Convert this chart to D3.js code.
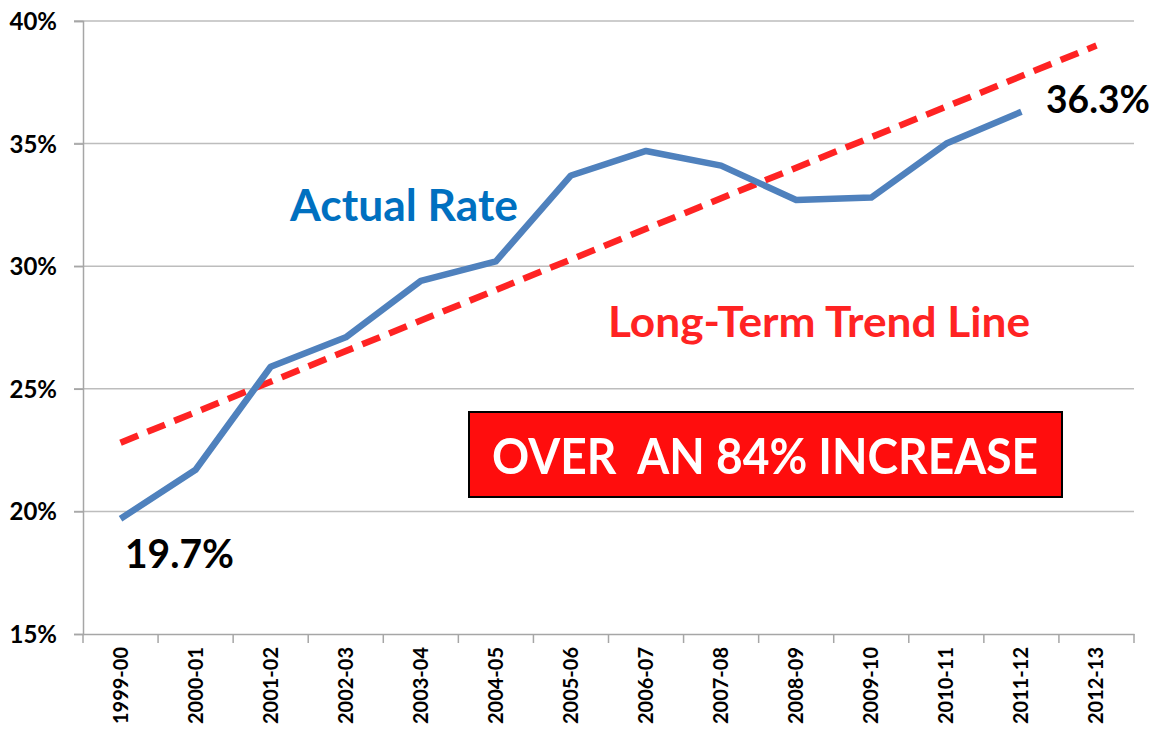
<!DOCTYPE html>
<html>
<head>
<meta charset="utf-8">
<script src="https://cdn.jsdelivr.net/npm/d3@7.9.0/dist/d3.min.js"></script>
<style>
  html, body { margin: 0; padding: 0; background: #fff; }
  svg text { font-family: Lato, "Open Sans", sans-serif; font-weight: bold; }
</style>
</head>
<body>
<svg id="chart" width="1157" height="735"></svg>
<script>
const years = [
  "1999-00", "2000-01", "2001-02", "2002-03", "2003-04", "2004-05", "2005-06",
  "2006-07", "2007-08", "2008-09", "2009-10", "2010-11", "2011-12", "2012-13",
];
const actualRate = [19.7, 21.7, 25.9, 27.1, 29.4, 30.2, 33.7, 34.7, 34.1, 32.7, 32.8, 35.0, 36.3];
const trendYears = ["1999-00", "2012-13"];
const trendRate = [22.8, 39.0];
const yTicks = [15, 20, 25, 30, 35, 40];

const margin = { top: 21, right: 23, bottom: 101, left: 83 };
const width = 1157;
const height = 735;

const svg = d3.select("#chart");

const x = d3.scaleBand()
  .domain(years)
  .range([margin.left, width - margin.right]);

const y = d3.scaleLinear()
  .domain([15, 40])
  .range([height - margin.bottom, margin.top]);

const cx = (yr) => x(yr) + x.bandwidth() / 2;

// gridlines
svg.append("g")
  .selectAll("line")
  .data(yTicks.slice(1))
  .join("line")
  .attr("x1", margin.left - 9)
  .attr("x2", width - margin.right)
  .attr("y1", (d) => y(d))
  .attr("y2", (d) => y(d))
  .attr("stroke", "#bdbdbd")
  .attr("stroke-width", 1.5);

// y axis
const yAxis = svg.append("g")
  .attr("transform", `translate(${margin.left},0)`)
  .call(d3.axisLeft(y).tickValues(yTicks).tickFormat((d) => d + "%").tickSize(9).tickPadding(17));
yAxis.select(".domain").attr("stroke", "#a6a6a6").attr("stroke-width", 1.5);
yAxis.selectAll(".tick line").attr("stroke", "#a6a6a6").attr("stroke-width", 1.5);
yAxis.selectAll("text")
  .attr("fill", "#000")
  .style("font-size", "24px")
  .attr("dy", "0.35em");

// x axis
const xAxis = svg.append("g")
  .attr("transform", `translate(0,${height - margin.bottom})`)
  .call(d3.axisBottom(x).tickSize(0).tickPadding(0));
xAxis.select(".domain").attr("stroke", "#a6a6a6").attr("stroke-width", 1.5);
xAxis.selectAll(".tick line").remove();
xAxis.selectAll(".tick text")
  .attr("fill", "#000")
  .style("font-size", "20px")
  .attr("text-anchor", "end")
  .attr("transform", "rotate(-90)")
  .attr("x", -13)
  .attr("y", 0)
  .attr("dy", "0.35em");

// category boundary ticks
svg.append("g")
  .selectAll("line")
  .data(years.concat(["end"]))
  .join("line")
  .attr("x1", (d, i) => i < years.length ? x(d) : x(years[years.length - 1]) + x.bandwidth())
  .attr("x2", (d, i) => i < years.length ? x(d) : x(years[years.length - 1]) + x.bandwidth())
  .attr("y1", height - margin.bottom)
  .attr("y2", height - margin.bottom + 9)
  .attr("stroke", "#a6a6a6")
  .attr("stroke-width", 1.5);

// trend line
const trendData = trendYears.map((yr, i) => ({ yr, v: trendRate[i] }));
svg.append("path")
  .datum(trendData)
  .attr("fill", "none")
  .attr("stroke", "#ff2323")
  .attr("stroke-width", 6.5)
  .attr("stroke-dasharray", "19,10")
  .attr("d", d3.line().x((d) => cx(d.yr)).y((d) => y(d.v)));

// actual rate line
const actualData = actualRate.map((v, i) => ({ yr: years[i], v }));
svg.append("path")
  .datum(actualData)
  .attr("fill", "none")
  .attr("stroke", "#4f81bd")
  .attr("stroke-width", 6.5)
  .attr("stroke-linejoin", "round")
  .attr("d", d3.line().x((d) => cx(d.yr)).y((d) => y(d.v)));

// annotations
svg.append("text")
  .attr("x", 290)
  .attr("y", 221)
  .attr("fill", "#0070c0")
  .style("font-size", "43px")
  .attr("textLength", 228)
  .attr("lengthAdjust", "spacingAndGlyphs")
  .text("Actual Rate");

svg.append("text")
  .attr("x", 608)
  .attr("y", 337)
  .attr("fill", "#ff2323")
  .style("font-size", "42px")
  .attr("textLength", 422)
  .attr("lengthAdjust", "spacingAndGlyphs")
  .text("Long-Term Trend Line");

svg.append("text")
  .attr("x", 125)
  .attr("y", 568)
  .attr("fill", "#000")
  .style("font-size", "40px")
  .attr("textLength", 109)
  .attr("lengthAdjust", "spacingAndGlyphs")
  .text(actualRate[0].toFixed(1) + "%");

svg.append("text")
  .attr("x", 1046)
  .attr("y", 113)
  .attr("fill", "#000")
  .style("font-size", "39px")
  .attr("textLength", 104)
  .attr("lengthAdjust", "spacingAndGlyphs")
  .text(actualRate[actualRate.length - 1].toFixed(1) + "%");

svg.append("rect")
  .attr("x", 469)
  .attr("y", 412)
  .attr("width", 593)
  .attr("height", 85)
  .attr("fill", "#ff0d0d")
  .attr("stroke", "#000")
  .attr("stroke-width", 2);

svg.append("text")
  .attr("x", 492)
  .attr("y", 474)
  .attr("fill", "#fff")
  .style("font-size", "50px")
  .attr("xml:space", "preserve")
  .attr("textLength", 546)
  .attr("lengthAdjust", "spacingAndGlyphs")
  .text("OVER  AN 84% INCREASE");
</script>
</body>
</html>
